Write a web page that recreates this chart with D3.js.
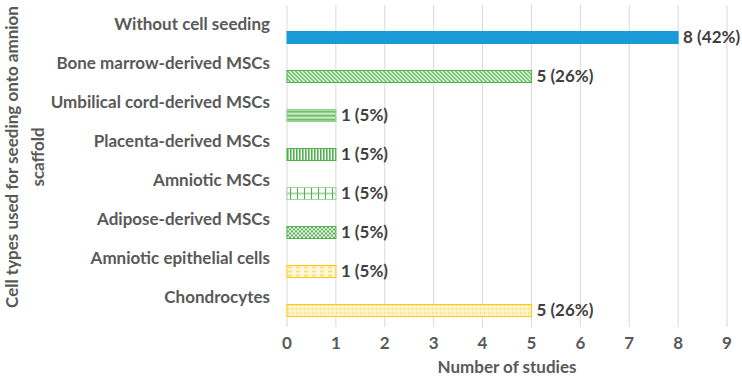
<!DOCTYPE html>
<html>
<head>
<meta charset="utf-8">
<script src="https://cdn.jsdelivr.net/npm/d3@7"></script>
<style>
  body { margin: 0; background: #fff; }
  svg text { font-family: Lato, "Open Sans", sans-serif; font-weight: bold; }
</style>
</head>
<body>
<div id="chart"></div>
<script>
// Chart data
const categories = [
    "Without cell seeding",
    "Bone marrow-derived MSCs",
    "Umbilical cord-derived MSCs",
    "Placenta-derived MSCs",
    "Amniotic MSCs",
    "Adipose-derived MSCs",
    "Amniotic epithelial cells",
    "Chondrocytes"
];
const studies = [8, 5, 1, 1, 1, 1, 1, 5];
const percents = ["42%", "26%", "5%", "5%", "5%", "5%", "5%", "26%"];
const xTicks = [0, 1, 2, 3, 4, 5, 6, 7, 8, 9];

const width = 742, height = 379;
const margin = { top: 5, right: 15, bottom: 62, left: 287 };
const fontSize = "17px";

const svg = d3.select("#chart")
    .append("svg")
    .attr("width", width)
    .attr("height", height);

const x = d3.scaleLinear()
    .domain([0, 9])
    .range([margin.left, width - margin.right]);

const y = d3.scaleBand()
    .domain(categories)
    .range([margin.top, margin.top + 312]);

const plotBottom = 327;
const barH = 12, barOffset = 13;
const barTop = i => y(categories[i]) + y.bandwidth() / 2 + barOffset - barH / 2;

const defs = svg.append("defs");

// Fill patterns, one per bar (aligned to the bar top)
function makePattern(id, i, w, h, bg, draw) {
    const p = defs.append("pattern")
        .attr("id", id)
        .attr("patternUnits", "userSpaceOnUse")
        .attr("x", x(0))
        .attr("y", barTop(i))
        .attr("width", w)
        .attr("height", h);
    p.append("rect").attr("width", w).attr("height", h).attr("fill", bg);
    draw(p);
}
const green = "#4db34a", yellow = "#ffc80a";

makePattern("p-diag", 1, 4, 4, "#fff", p => {
    p.append("path").attr("d", "M-1,-1 L5,5 M-1,3 L1,5 M3,-1 L5,1")
        .attr("stroke", green).attr("stroke-width", 1.4);
});
makePattern("p-horiz", 2, 6, 4, "#cfeacb", p => {
    p.append("rect").attr("y", 1.5).attr("width", 6).attr("height", 1.5).attr("fill", green);
});
makePattern("p-vert", 3, 3, 6, "#fff", p => {
    p.append("rect").attr("x", 0).attr("width", 1.6).attr("height", 6).attr("fill", green);
});
makePattern("p-grid", 4, 7, 12, "#fff", p => {
    p.append("rect").attr("x", 3).attr("width", 1).attr("height", 12).attr("fill", green);
    p.append("rect").attr("y", 5.5).attr("width", 7).attr("height", 1).attr("fill", green);
});
makePattern("p-check", 5, 4, 4, "#fff", p => {
    p.append("rect").attr("width", 2).attr("height", 2).attr("fill", green);
    p.append("rect").attr("x", 2).attr("y", 2).attr("width", 2).attr("height", 2).attr("fill", green);
});
makePattern("p-dash", 6, 8, 4, "#fff8de", p => {
    p.append("rect").attr("x", 1).attr("y", 1.5).attr("width", 4).attr("height", 1).attr("fill", yellow);
});
makePattern("p-dots", 7, 4, 4, "#fff0b8", p => {
    p.append("rect").attr("x", 1).attr("y", 0).attr("width", 1).attr("height", 4).attr("fill", "#fde08a");
    p.append("rect").attr("x", 0).attr("y", 2).attr("width", 4).attr("height", 1).attr("fill", "#fffbe8");
});

const fills = ["#1a9ad6", "url(#p-diag)", "url(#p-horiz)", "url(#p-vert)",
               "url(#p-grid)", "url(#p-check)", "url(#p-dash)", "url(#p-dots)"];
const strokes = ["#1a9ad6", green, "#8fd08a", green, "#9fd69b", green, yellow, yellow];

// Vertical gridlines
svg.append("g")
    .selectAll("line")
    .data(xTicks)
    .enter()
    .append("line")
    .attr("x1", d => x(d))
    .attr("x2", d => x(d))
    .attr("y1", margin.top)
    .attr("y2", plotBottom)
    .attr("stroke", "#d9d9d9")
    .attr("stroke-width", 1);

// X tick labels
svg.append("g")
    .selectAll("text")
    .data(xTicks)
    .enter()
    .append("text")
    .attr("x", d => x(d))
    .attr("y", 343)
    .attr("dy", "0.35em")
    .style("text-anchor", "middle")
    .style("font-size", fontSize)
    .style("fill", "#595959")
    .text(d => d);

// Category labels (sit above each bar)
svg.append("g")
    .selectAll("text")
    .data(categories)
    .enter()
    .append("text")
    .attr("x", 270)
    .attr("y", d => y(d) + y.bandwidth() / 2)
    .attr("dy", "0.35em")
    .style("text-anchor", "end")
    .style("font-size", fontSize)
    .style("fill", "#595959")
    .text(d => d);

// Bars
svg.append("g")
    .selectAll("rect")
    .data(studies)
    .enter()
    .append("rect")
    .attr("x", x(0))
    .attr("y", (d, i) => barTop(i))
    .attr("width", d => x(d) - x(0))
    .attr("height", barH)
    .attr("fill", (d, i) => fills[i])
    .attr("stroke", (d, i) => strokes[i])
    .attr("stroke-width", 1);

// Value labels
svg.append("g")
    .selectAll("text")
    .data(studies)
    .enter()
    .append("text")
    .attr("x", d => x(d) + 5)
    .attr("y", (d, i) => barTop(i) + barH / 2)
    .attr("dy", "0.35em")
    .style("font-size", fontSize)
    .style("fill", "#404040")
    .text((d, i) => `${d} (${percents[i]})`);

// Axis titles
svg.append("text")
    .attr("x", (x(0) + x(9)) / 2)
    .attr("y", 367)
    .attr("dy", "0.35em")
    .style("text-anchor", "middle")
    .style("font-size", fontSize)
    .style("fill", "#595959")
    .text("Number of studies");

const yTitle = svg.append("text")
    .attr("transform", "translate(0,157) rotate(-90)")
    .style("text-anchor", "middle")
    .style("font-size", "17px")
    .style("fill", "#595959");
yTitle.append("tspan").attr("x", 0).attr("y", 18).text("Cell types used for seeding onto amnion");
yTitle.append("tspan").attr("x", 0).attr("y", 44).text("scaffold");
</script>
</body>
</html>
